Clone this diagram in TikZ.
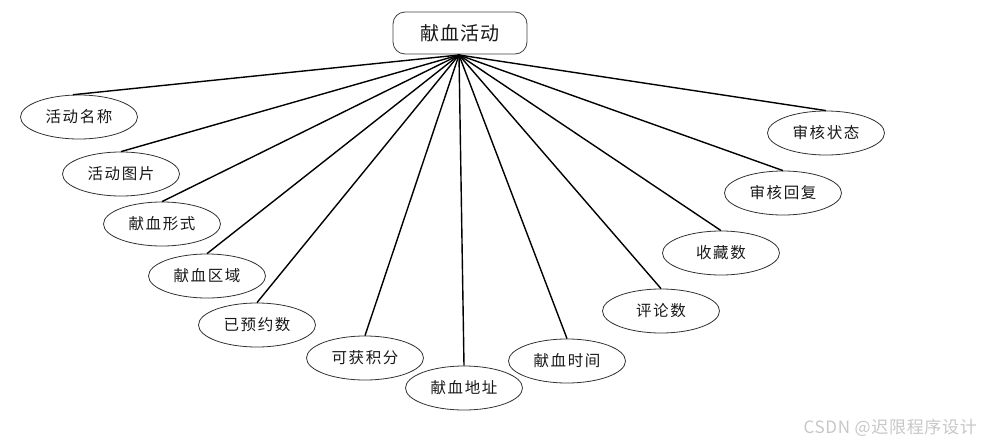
\documentclass[tikz,border=0pt]{standalone}
\usepackage{fontspec}
\newfontfamily\cjk[LetterSpace=10]{Noto Sans CJK SC}
\newfontfamily\cjkt[LetterSpace=6]{Noto Sans CJK SC}
\newfontfamily\cjkw[LetterSpace=4]{Noto Sans CJK SC}
\usetikzlibrary{shapes.geometric}
\begin{document}
\begin{tikzpicture}[x=1pt,y=-1pt,
  attr/.style={ellipse,draw=black!80,line width=0.8pt,fill=white,minimum width=117pt,minimum height=44pt,inner sep=0pt,font=\cjk\fontsize{15.5}{17}\selectfont,text=black!90},
  entity/.style={rectangle,rounded corners=12pt,draw=black!75,line width=0.8pt,fill=white,minimum width=134pt,minimum height=42pt,inner sep=0pt,font=\cjkt\fontsize{19}{21}\selectfont,text=black!90},
  link/.style={line width=1.4pt,black}]
\useasboundingbox (0,0) rectangle (982,447);
\node[entity] (top) at (460,33) {献血活动};
\coordinate (hub) at (459,55);
\node[attr] (a1) at (79,117) {活动名称};
\node[attr] (a2) at (121,174) {活动图片};
\node[attr] (a3) at (162,224) {献血形式};
\node[attr] (a4) at (207,276) {献血区域};
\node[attr] (a5) at (257,325) {已预约数};
\node[attr] (a6) at (365,358) {可获积分};
\node[attr] (a7) at (464,388) {献血地址};
\node[attr] (a8) at (567,361) {献血时间};
\node[attr] (a9) at (661,311) {评论数};
\node[attr] (a10) at (721,253) {收藏数};
\node[attr] (a11) at (783,193) {审核回复};
\node[attr] (a12) at (826,133) {审核状态};
\draw[link] (hub) -- (a1.105);
\foreach \n in {a2,a3,a4,a5,a6,a7,a8,a9,a10,a11,a12}
  \draw[link] (hub) -- (\n.north);
\node[font=\cjkw\fontsize{17}{19}\selectfont,text=black!22,anchor=east,inner sep=0pt] (wm) at (977,428) {CSDN @迟限程序设计};
\end{tikzpicture}
\end{document}
